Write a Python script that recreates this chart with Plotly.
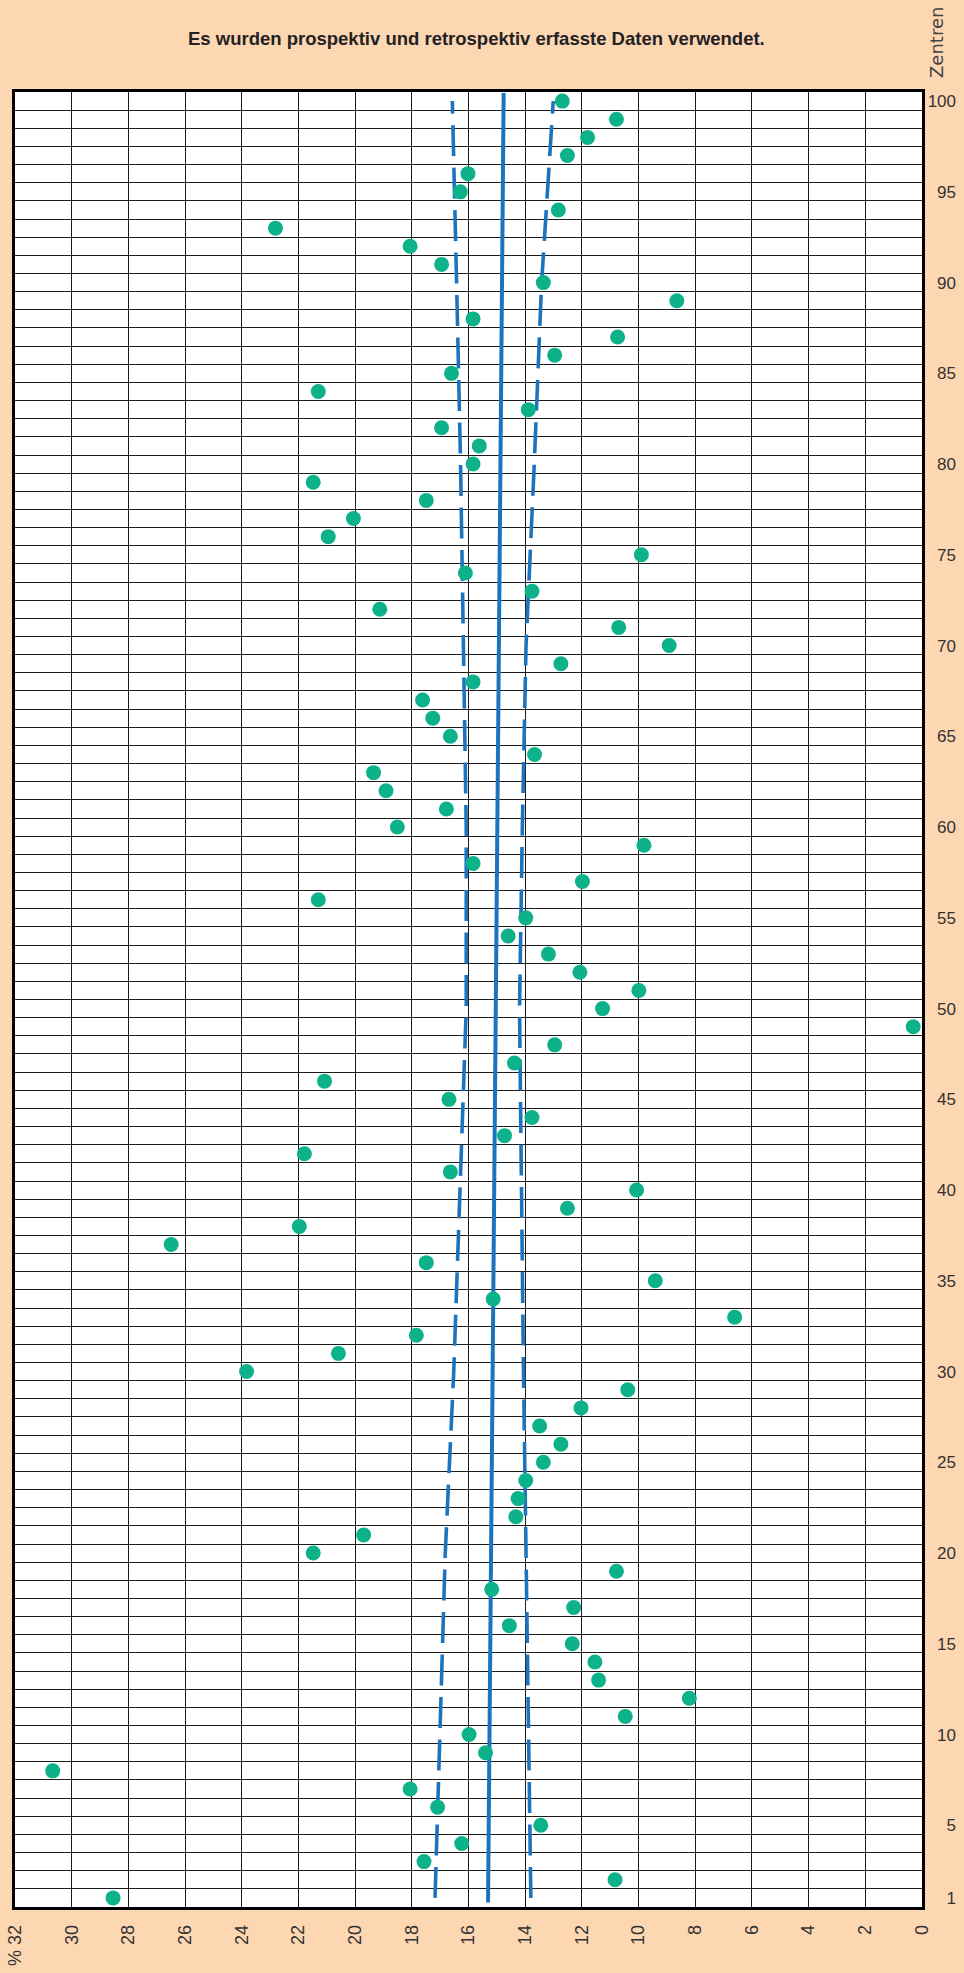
import plotly.graph_objects as go

# ---------------- data ----------------
centres = list(range(1, 101))
rate_percent = [
    28.54, 10.83, 17.57, 16.24, 13.45, 17.09, 18.06, 30.67, 15.40, 15.98,
    10.47, 8.21, 11.41, 11.54, 12.34, 14.56, 12.29, 15.18, 10.78, 21.48,
    19.70, 14.33, 14.25, 13.98, 13.36, 12.74, 13.49, 12.03, 10.38, 23.83,
    20.59, 17.84, 6.61, 15.13, 9.41, 17.49, 26.49, 21.97, 12.51, 10.07,
    16.64, 21.79, 14.73, 13.76, 16.69, 21.08, 14.38, 12.96, 0.31, 11.27,
    9.99, 12.07, 13.18, 14.60, 13.98, 21.30, 11.98, 15.84, 9.81, 18.51,
    16.78, 18.91, 19.35, 13.67, 16.64, 17.26, 17.62, 15.84, 12.74, 8.92,
    10.70, 19.13, 13.76, 16.11, 9.90, 20.95, 20.06, 17.49, 21.48, 15.84,
    15.62, 16.95, 13.89, 21.30, 16.60, 12.96, 10.74, 15.84, 8.65, 13.36,
    16.95, 18.06, 22.81, 12.83, 16.29, 16.02, 12.51, 11.80, 10.78, 12.69,
]

trend_rows = [0.75, 100.45]
trend_values = [15.31, 14.76]

band_rows = [1, 10, 20, 30, 40, 50, 60, 70, 80, 90, 100]
band_upper = [17.18, 17.00, 16.82, 16.52, 16.30, 16.08, 16.08, 16.18, 16.28, 16.42, 16.57]
band_lower = [13.80, 13.88, 13.99, 14.06, 14.13, 14.20, 14.10, 13.97, 13.68, 13.42, 13.01]

x_ticks = list(range(32, -1, -2))
x_ticktext = ["% 32"] + [str(v) for v in x_ticks[1:]]
y_ticks = [1] + list(range(5, 101, 5))
y_ticktext = [str(v) for v in y_ticks]

title_text = "Es wurden prospektiv und retrospektiv erfasste Daten verwendet."
y_title = "Zentren"

# ---------------- style ----------------
PEACH = "rgb(253,214,178)"
BLUE = "rgb(29,116,190)"
GREEN = "rgb(13,178,139)"
GRID = "#1c1c1c"
TEXT = "#333333"

W, H = 964, 1973
ML, MR = 15, 5
plot_w = W - ML - MR
x_domain_end = 907 / plot_w

fig = go.Figure()

fig.add_trace(go.Scatter(
    x=band_upper, y=band_rows, mode="lines",
    line=dict(color=BLUE, width=3.6, dash="31px,11.5px"),
    hoverinfo="skip",
))
fig.add_trace(go.Scatter(
    x=band_lower, y=band_rows, mode="lines",
    line=dict(color=BLUE, width=3.6, dash="31px,11.5px"),
    hoverinfo="skip",
))
fig.add_trace(go.Scatter(
    x=trend_values, y=trend_rows, mode="lines",
    line=dict(color=BLUE, width=4),
    hoverinfo="skip",
))
fig.add_trace(go.Scatter(
    x=rate_percent, y=centres, mode="markers", yaxis="y2",
    marker=dict(color=GREEN, size=15, line=dict(width=0)),
    cliponaxis=False,
))

fig.update_layout(
    template="none",
    width=W, height=H,
    margin=dict(l=ML, r=MR, t=92, b=66, pad=0),
    paper_bgcolor=PEACH,
    plot_bgcolor="white",
    showlegend=False,
    xaxis=dict(
        domain=[0, x_domain_end],
        range=[32, 0], autorange=False,
        tickmode="array", tickvals=x_ticks, ticktext=x_ticktext,
        tickangle=-90, ticks="", ticklabelstandoff=8,
        tickfont=dict(family="Liberation Sans", size=18, color=TEXT),
        showgrid=True, gridcolor=GRID, gridwidth=1,
        zeroline=False,
        showline=True, linecolor="black", linewidth=2.5, mirror=True,
        automargin=False,
    ),
    yaxis=dict(
        range=[0.5, 100.5], autorange=False, side="right",
        showticklabels=False, ticks="",
        showgrid=False,
        minor=dict(tick0=0.5, dtick=1, showgrid=True, gridcolor=GRID, gridwidth=1, ticks=""),
        zeroline=False,
        showline=True, linecolor="black", linewidth=2.5, mirror=True,
        automargin=False,
    ),
    yaxis2=dict(
        overlaying="y", side="left", anchor="free",
        position=(956 - ML) / plot_w,
        range=[0.5, 100.5], autorange=False,
        tickmode="array", tickvals=y_ticks, ticktext=y_ticktext,
        ticks="", ticklabelstandoff=0,
        tickfont=dict(family="Liberation Sans", size=17, color=TEXT),
        showgrid=False, zeroline=False, showline=False,
        automargin=False,
    ),
    annotations=[
        dict(
            text="<b>" + title_text + "</b>",
            xref="paper", yref="paper", x=(476 - ML) / plot_w, y=1.0297,
            xanchor="center", yanchor="middle", showarrow=False,
            font=dict(family="Liberation Sans", size=18.5, color="#222222"),
        ),
        dict(
            text=y_title, textangle=-90,
            xref="paper", yref="paper", x=(937 - ML) / plot_w, y=1.027,
            xanchor="center", yanchor="middle", showarrow=False,
            font=dict(family="DejaVu Sans", size=18, color="#444444"),
        ),
    ],
)

fig.write_html("out.html")
